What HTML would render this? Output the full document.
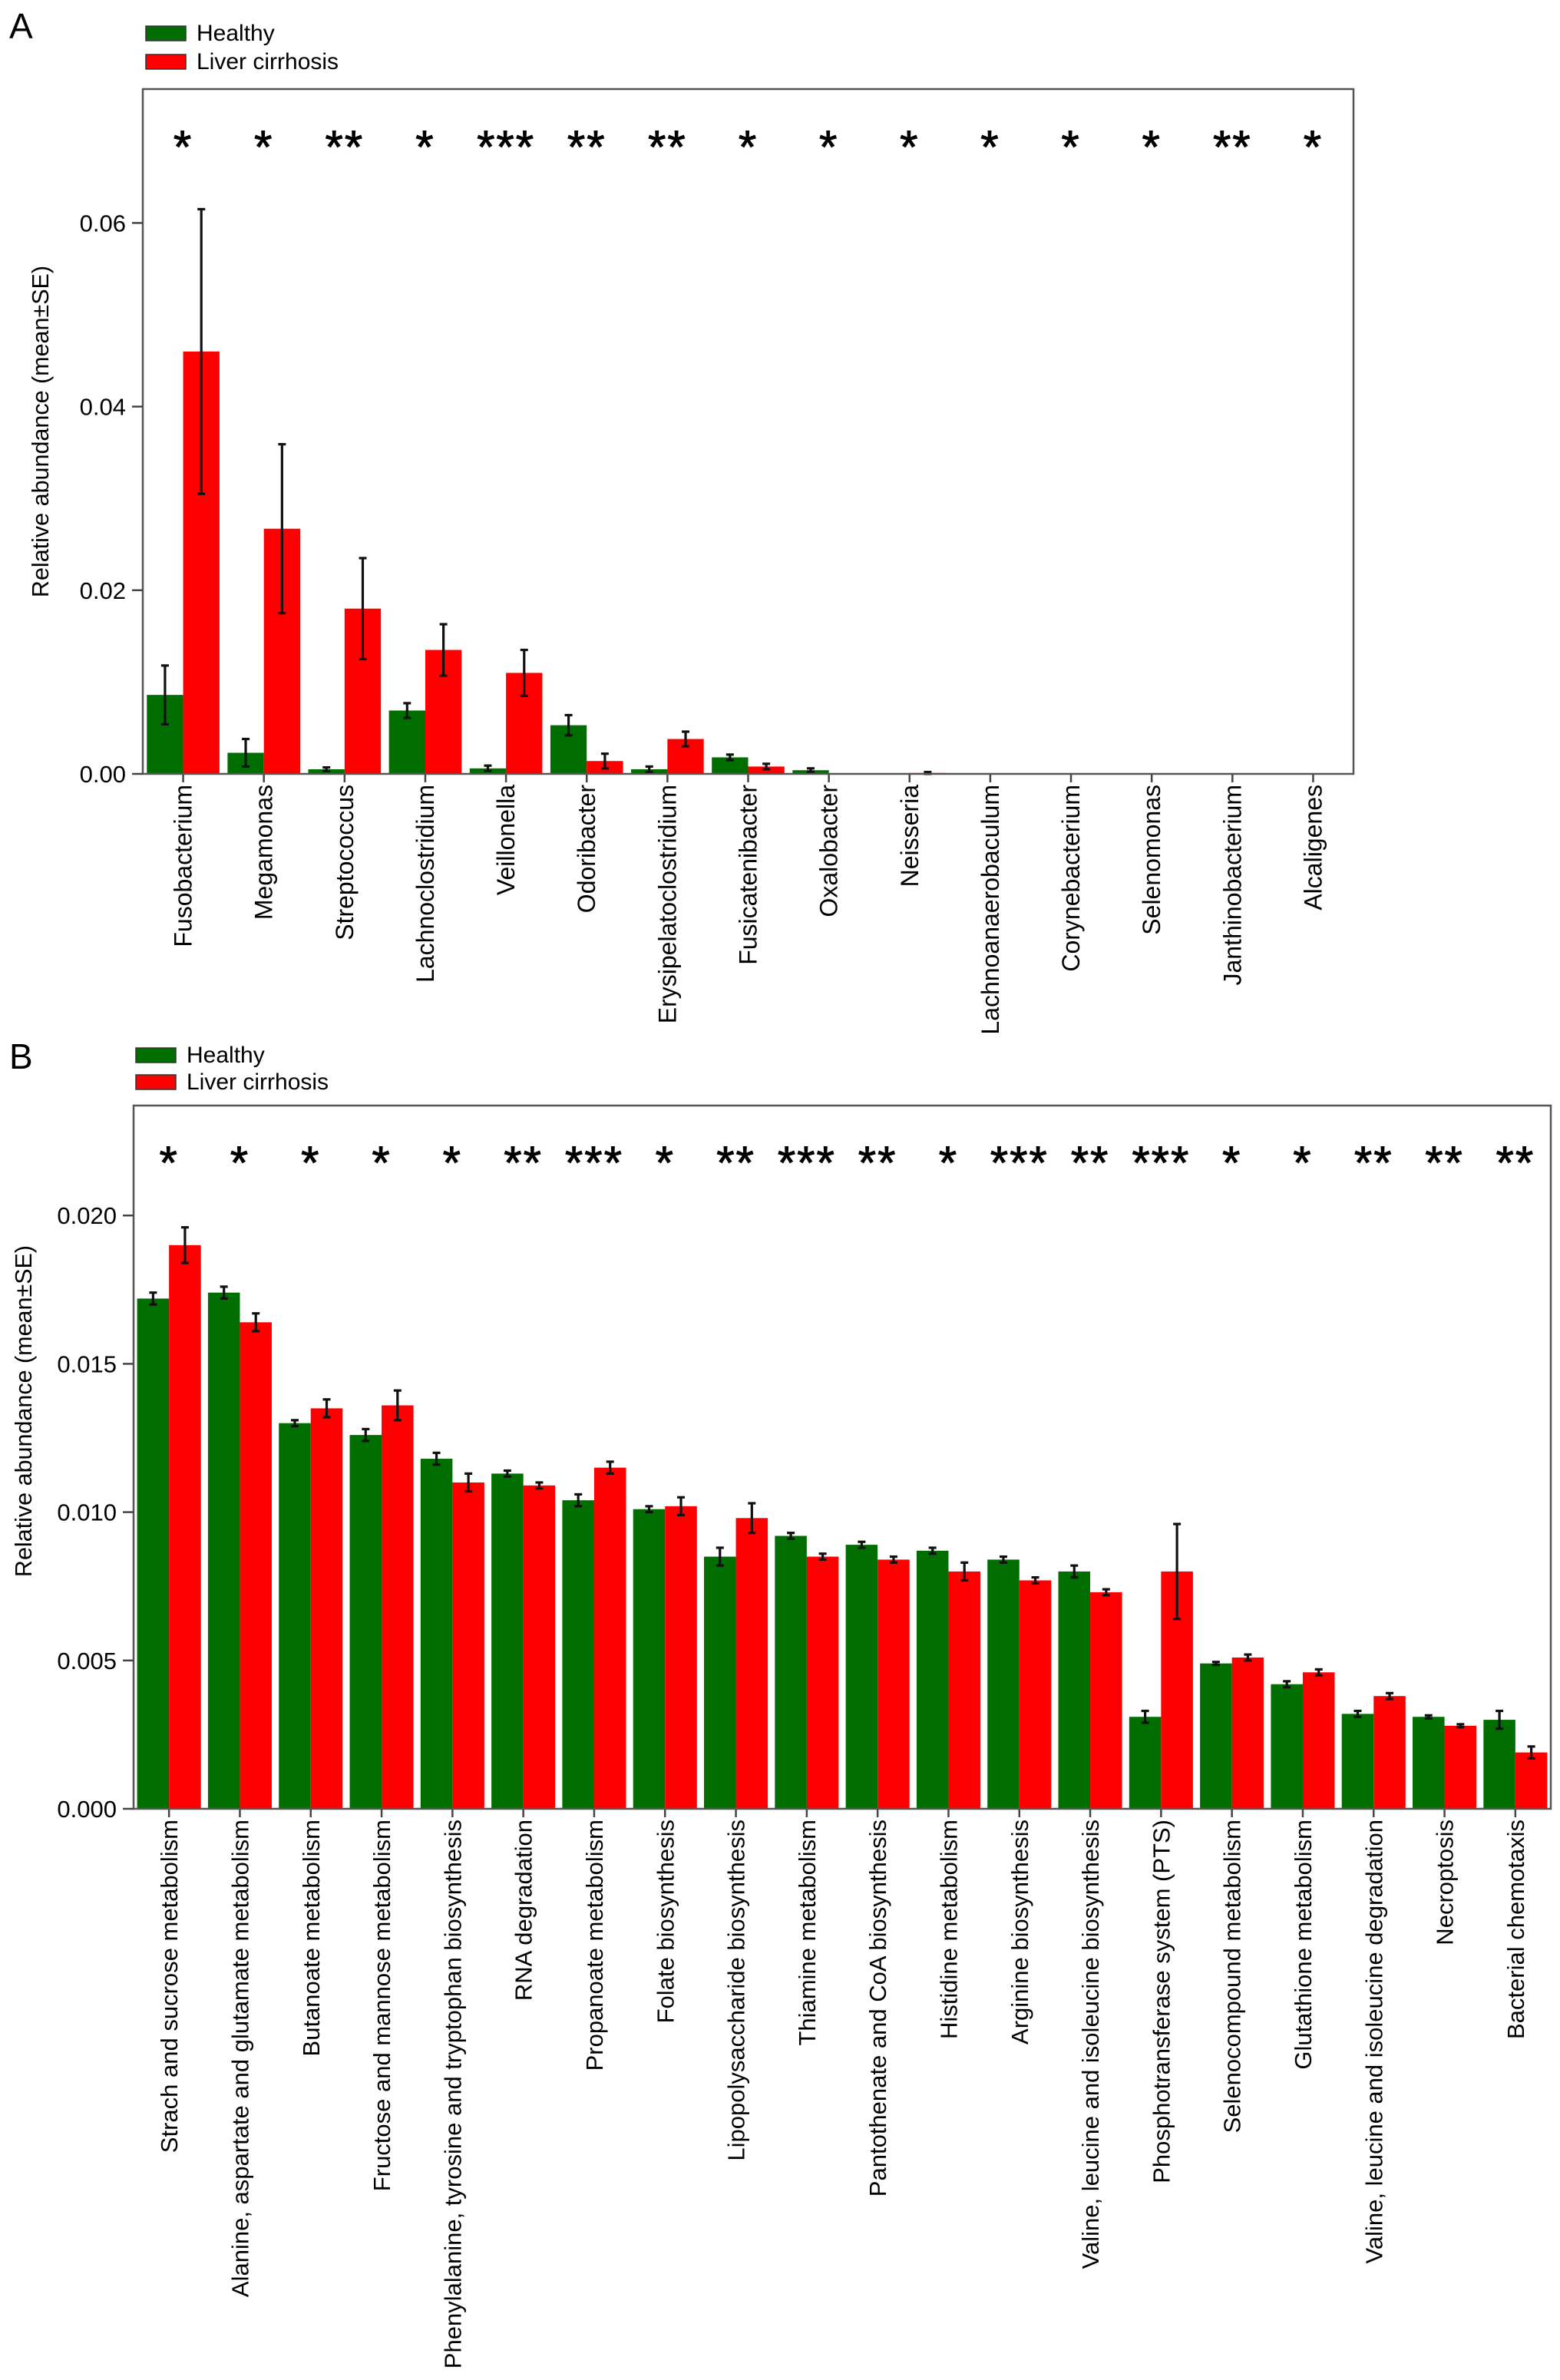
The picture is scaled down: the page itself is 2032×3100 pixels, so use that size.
<!DOCTYPE html>
<html><head><meta charset="utf-8">
<style>
html,body{margin:0;padding:0;background:#fff;}
svg{display:block;font-family:"Liberation Sans",Arial,sans-serif;}
</style></head>
<body>
<svg id="fig" width="2032" height="3100" viewBox="0 0 2032 3100" xmlns="http://www.w3.org/2000/svg"></svg>
<script>
// ---- Panel A data ----
const catsA = ["Fusobacterium","Megamonas","Streptococcus","Lachnoclostridium","Veillonella","Odoribacter","Erysipelatoclostridium","Fusicatenibacter","Oxalobacter","Neisseria","Lachnoanaerobaculum","Corynebacterium","Selenomonas","Janthinobacterium","Alcaligenes"];
const healthyA = [0.0086,0.0023,0.0005,0.0069,0.0006,0.0053,0.0005,0.0018,0.0004,0,0,0,0,0,0];
const healthySeA = [0.0032,0.0015,0.0002,0.0008,0.0003,0.0011,0.0003,0.0003,0.0002,0,0,0,0,0,0];
const cirrA = [0.046,0.0267,0.018,0.0135,0.011,0.0014,0.0038,0.0008,0,0.0001,0,0,0,0,0];
const cirrSeA = [0.0155,0.0092,0.0055,0.0028,0.0025,0.0008,0.0008,0.0003,0,0.0001,0,0,0,0,0];
const starsA = ["*","*","**","*","***","**","**","*","*","*","*","*","*","**","*"];
const ticksA = [0,0.02,0.04,0.06];
const tickLabelsA = ["0.00","0.02","0.04","0.06"];
// ---- Panel B data ----
const catsB = ["Strach and sucrose metabolism","Alanine, aspartate and glutamate metabolism","Butanoate metabolism","Fructose and mannose metabolism","Phenylalanine, tyrosine and tryptophan biosynthesis","RNA degradation","Propanoate metabolism","Folate biosynthesis","Lipopolysaccharide biosynthesis","Thiamine metabolism","Pantothenate and CoA biosynthesis","Histidine metabolism","Arginine biosynthesis","Valine, leucine and isoleucine biosynthesis","Phosphotransferase system (PTS)","Selenocompound metabolism","Glutathione metabolism","Valine, leucine and isoleucine degradation","Necroptosis","Bacterial chemotaxis"];
const healthyB = [0.0172,0.0174,0.0130,0.0126,0.0118,0.0113,0.0104,0.0101,0.0085,0.0092,0.0089,0.0087,0.0084,0.0080,0.0031,0.0049,0.0042,0.0032,0.0031,0.0030];
const healthySeB = [0.0002,0.0002,0.0001,0.0002,0.0002,0.0001,0.0002,0.0001,0.0003,0.0001,0.0001,0.0001,0.0001,0.0002,0.0002,0.00005,0.0001,0.0001,0.00005,0.0003];
const cirrB = [0.0190,0.0164,0.0135,0.0136,0.0110,0.0109,0.0115,0.0102,0.0098,0.0085,0.0084,0.0080,0.0077,0.0073,0.0080,0.0051,0.0046,0.0038,0.0028,0.0019];
const cirrSeB = [0.0006,0.0003,0.0003,0.0005,0.0003,0.0001,0.0002,0.0003,0.0005,0.0001,0.0001,0.0003,0.0001,0.0001,0.0016,0.0001,0.0001,0.0001,0.00005,0.0002];
const starsB = ["*","*","*","*","*","**","***","*","**","***","**","*","***","**","***","*","*","**","**","**"];
const ticksB = [0,0.005,0.010,0.015,0.020];
const tickLabelsB = ["0.000","0.005","0.010","0.015","0.020"];

const NS="http://www.w3.org/2000/svg";
const svg=document.getElementById('fig');
function mk(tag,attrs,parent){const e=document.createElementNS(NS,tag);for(const k in attrs)e.setAttribute(k,attrs[k]);(parent||svg).appendChild(e);return e;}

function panel(cfg){
  const g=mk('g',{});
  
  
  const n=cfg.cats.length, step=(cfg.right-cfg.left)/n;
  const y=v=>cfg.y0 - v*cfg.pxPerUnit;
  const cx=i=>cfg.left+step*(i+0.5);
  const bw=step*cfg.barFrac/2;
  const L=mk('text',{x:cfg.letterX,y:cfg.letterY,'font-size':46,fill:'#000'},g);L.textContent=cfg.letter;
  
  
  const lg=mk('g',{},g);
  
  
  [["Healthy","#006e00",cfg.legY1],["Liver cirrhosis","#ff0000",cfg.legY2]].forEach(([t,c,ly])=>{
    const e=mk('g',{},lg);
    
    
    mk('rect',{x:cfg.legX,y:ly,width:52,height:19,fill:c,stroke:'#333','stroke-width':1.5},e);
    const tt=mk('text',{x:cfg.legX+66,y:ly+19,'font-size':30,fill:'#000'},e);tt.textContent=t;
  });
  for(let i=0;i<n;i++){
    [[cfg.h,cfg.hse,-1,'#006e00','healthy'],[cfg.c,cfg.cse,0,'#ff0000','cirrhosis']].forEach(([vals,se,off,col,nm])=>{
      const v=vals[i];
      const x0=cx(i)+off*bw;
      const r=mk('rect',{x:x0,y:y(v),width:bw,height:Math.max(0,cfg.y0-y(v)),fill:col},g);
      
      
      if(se[i]>0){
        const ex=x0+bw/2, t=y(v+se[i]), b=y(v-se[i]);
        const eb=mk('g',{stroke:'#111','stroke-width':3.2},g);
        
        
        mk('line',{x1:ex,y1:t,x2:ex,y2:b},eb);
        mk('line',{x1:ex-5,y1:t,x2:ex+5,y2:t},eb);
        mk('line',{x1:ex-5,y1:b,x2:ex+5,y2:b},eb);
      }
    });
    const s=mk('text',{x:cx(i),y:cfg.starY,'font-size':60,'text-anchor':'middle',fill:'#000','letter-spacing':2,stroke:'#000','stroke-width':1},g);
    s.textContent=cfg.stars[i];
    
    
    mk('line',{x1:cx(i),y1:cfg.y0,x2:cx(i),y2:cfg.y0+11,stroke:'#444','stroke-width':2.5},g);
    const lb=mk('text',{x:0,y:0,'font-size':cfg.labFont,'text-anchor':'end',fill:'#000',transform:`translate(${cx(i)+11},${cfg.y0+cfg.labOff}) rotate(-90)`},g);
    lb.textContent=cfg.cats[i];
    
    
  }
  const fr=mk('rect',{x:cfg.left,y:cfg.top,width:cfg.right-cfg.left,height:cfg.y0-cfg.top,fill:'none',stroke:'#555','stroke-width':2.5},g);
  
  
  cfg.ticks.forEach((t,k)=>{
    mk('line',{x1:cfg.left-14,y1:y(t),x2:cfg.left,y2:y(t),stroke:'#444','stroke-width':2.5},g);
    const tl=mk('text',{x:cfg.left-22,y:y(t)+11,'font-size':31,'text-anchor':'end',fill:'#000'},g);
    tl.textContent=cfg.tickLabels[k];
    
    
  });
  const yt=mk('text',{x:0,y:0,'font-size':30.5,'text-anchor':'middle',fill:'#000',transform:`translate(${cfg.titleX},${(cfg.top+cfg.y0)/2+ cfg.titleDy}) rotate(-90)`},g);
  yt.textContent="Relative abundance (mean±SE)";
  
  
}

panel({name:'panel-a',letter:'A',letterX:12,letterY:50,legX:190,legY1:34,legY2:71,
  cats:catsA,h:healthyA,hse:healthySeA,c:cirrA,cse:cirrSeA,stars:starsA,ticks:ticksA,tickLabels:tickLabelsA,
  left:186,right:1763,top:116,y0:1008,pxPerUnit:11960,barFrac:0.9,starY:212,labOff:14,labFont:32,titleX:63,titleDy:0});
panel({name:'panel-b',letter:'B',letterX:12,letterY:1392,legX:177,legY1:1365,legY2:1400,
  cats:catsB,h:healthyB,hse:healthySeB,c:cirrB,cse:cirrSeB,stars:starsB,ticks:ticksB,tickLabels:tickLabelsB,
  left:174,right:2020,top:1440,y0:2356,pxPerUnit:38640,barFrac:0.9,starY:1535,labOff:14,labFont:31,titleX:41,titleDy:-60});
</script>
</body></html>
